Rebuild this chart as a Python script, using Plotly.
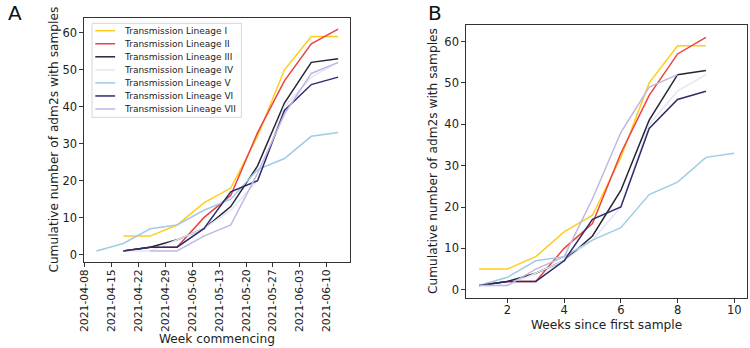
import plotly.graph_objects as go

# ---------------- data ----------------
week_dates = ["2021-04-11", "2021-04-18", "2021-04-25", "2021-05-02", "2021-05-09",
              "2021-05-16", "2021-05-23", "2021-05-30", "2021-06-06", "2021-06-13"]

lineage_names = ["Transmission Lineage I", "Transmission Lineage II", "Transmission Lineage III",
                 "Transmission Lineage IV", "Transmission Lineage V", "Transmission Lineage VI",
                 "Transmission Lineage VII"]

# index into week_dates of the first sampled week of each lineage
first_week_index = [1, 1, 1, 1, 0, 1, 2]

lineage_I = [5, 5, 8, 14, 18, 32, 50, 59, 59]
lineage_II = [1, 2, 2, 10, 16, 33, 47, 57, 61]
lineage_III = [1, 2, 4, 7, 13, 24, 41, 52, 53]
lineage_IV = [1, 1, 4, 7, 12, 20, 40, 48, 52]
lineage_V = [1, 3, 7, 8, 12, 15, 23, 26, 32, 33]
lineage_VI = [1, 2, 2, 7, 17, 20, 39, 46, 48]
lineage_VII = [1, 1, 5, 8, 22, 38, 49, 52]

lineage_values = [lineage_I, lineage_II, lineage_III, lineage_IV, lineage_V, lineage_VI, lineage_VII]

colors = ["#FFCD1C", "#EE4242", "#262636", "#E4E6F3", "#9FCBE6", "#2F2C6E", "#BDB8E2"]

date_ticks = ["2021-04-08", "2021-04-15", "2021-04-22", "2021-04-29", "2021-05-06",
              "2021-05-13", "2021-05-20", "2021-05-27", "2021-06-03", "2021-06-10"]
y_ticks = [0, 10, 20, 30, 40, 50, 60]
week_ticks = [2, 4, 6, 8, 10]

# ---------------- figure ----------------
W, H = 750, 348
FONT = "DejaVu Sans"
fig = go.Figure()

for name, vals, start, col in zip(lineage_names, lineage_values, first_week_index, colors):
    fig.add_trace(go.Scatter(x=week_dates[start:start + len(vals)], y=vals, mode="lines",
                             line=dict(color=col, width=1.5), name=name, showlegend=False,
                             xaxis="x", yaxis="y"))
for name, vals, col in zip(lineage_names, lineage_values, colors):
    fig.add_trace(go.Scatter(x=list(range(1, len(vals) + 1)), y=vals, mode="lines",
                             line=dict(color=col, width=1.5), name=name, showlegend=False,
                             xaxis="x2", yaxis="y2"))

def px(x):
    return x / W

def py(y):
    return 1 - y / H

axis_common = dict(showgrid=False, zeroline=False, showline=True, mirror=True,
                   linecolor="#333333", linewidth=1, ticks="outside", ticklen=4,
                   tickcolor="#333333")
tick_font = dict(family=FONT, size=11.5, color="#222")

fig.update_layout(
    width=W, height=H, margin=dict(l=0, r=0, t=0, b=0),
    paper_bgcolor="white", plot_bgcolor="white",
    font=dict(family=FONT, size=11, color="#222"),
    xaxis=dict(domain=[px(79), px(347)], anchor="y", type="date",
               range=["2021-04-07 20:24", "2021-06-16 03:36"],
               tickmode="array", tickvals=date_ticks, ticktext=date_ticks,
               tickangle=-90, ticklabelstandoff=-2,
               tickfont=dict(family=FONT, size=10.8, color="#222"), **axis_common),
    yaxis=dict(domain=[py(262), py(18)], anchor="x", range=[-2, 64],
               tickmode="array", tickvals=y_ticks, tickfont=tick_font, **axis_common),
    xaxis2=dict(domain=[px(464), px(747)], anchor="y2", range=[0.55, 10.45],
                tickmode="array", tickvals=week_ticks, ticklabelstandoff=-3,
                tickfont=tick_font, **axis_common),
    yaxis2=dict(domain=[py(298), py(25)], anchor="x2", range=[-2, 64],
                tickmode="array", tickvals=y_ticks, tickfont=tick_font, **axis_common),
)

ann = []
title_font = dict(family=FONT, size=12.2, color="#222")
ann.append(dict(x=px(213), y=py(339), xref="paper", yref="paper", text="Week commencing",
                showarrow=False, font=title_font, xanchor="center", yanchor="middle"))
ann.append(dict(x=px(48), y=py(140), xref="paper", yref="paper",
                text="Cumulative number of adm2s with samples", textangle=-90,
                showarrow=False, font=title_font, xanchor="center", yanchor="middle"))
ann.append(dict(x=px(605.5), y=py(325), xref="paper", yref="paper", text="Weeks since first sample",
                showarrow=False, font=title_font, xanchor="center", yanchor="middle"))
ann.append(dict(x=px(430), y=py(161.5), xref="paper", yref="paper",
                text="Cumulative number of adm2s with samples", textangle=-90,
                showarrow=False, font=title_font, xanchor="center", yanchor="middle"))
ann.append(dict(x=px(9), y=py(13), xref="paper", yref="paper", text="A", showarrow=False,
                font=dict(family=FONT, size=20, color="#111"), xanchor="center", yanchor="middle"))
ann.append(dict(x=px(432), y=py(13), xref="paper", yref="paper", text="B", showarrow=False,
                font=dict(family=FONT, size=20, color="#111"), xanchor="center", yanchor="middle"))

# manual legend (panel A)
shapes = [dict(type="rect", xref="paper", yref="paper", x0=px(86.7), x1=px(237.3),
               y0=py(117.3), y1=py(23.3), line=dict(color="#D6D6D6", width=1),
               fillcolor="rgba(255,255,255,0.85)", layer="above")]
for i, (name, col) in enumerate(zip(lineage_names, colors)):
    yy = 30.7 + 13.05 * i
    shapes.append(dict(type="line", xref="paper", yref="paper", x0=px(90), x1=px(110),
                       y0=py(yy), y1=py(yy), line=dict(color=col, width=1.5), layer="above"))
    ann.append(dict(x=px(116.5), y=py(yy), xref="paper", yref="paper", text=name,
                    showarrow=False, font=dict(family=FONT, size=9, color="#222"),
                    xanchor="left", yanchor="middle"))

fig.update_layout(annotations=ann, shapes=shapes)
fig.write_html("out.html", config={"displayModeBar": False},
               post_script="document.body.style.margin='0px';document.body.style.overflow='hidden';")
